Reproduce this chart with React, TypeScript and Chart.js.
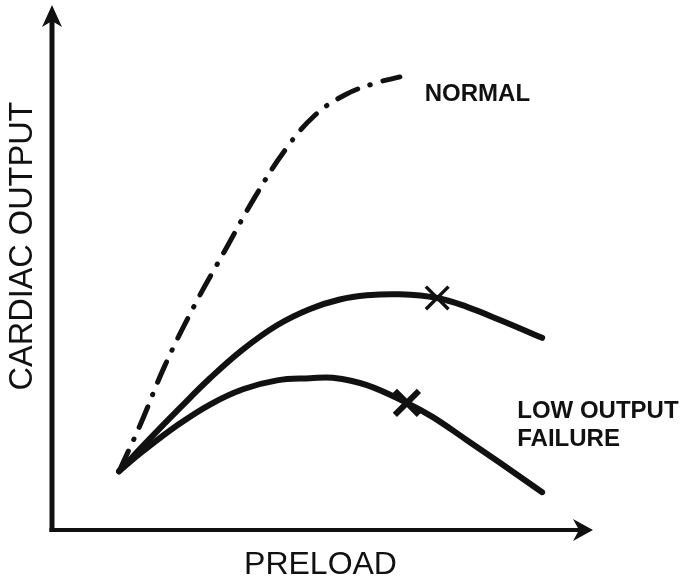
import React, { useEffect, useRef } from 'react';
import { Chart, registerables } from 'chart.js';

Chart.register(...registerables);

// Preload (x) and cardiac output (y) in arbitrary units, 0..100
const normalPreload = [12.4, 16.3, 20.9, 26.4, 32.0, 37.5, 43.1, 48.6, 54.2, 59.7, 64.3];
const normalOutput = [11.2, 20.0, 31.4, 42.9, 53.3, 63.4, 72.4, 79.0, 82.9, 85.1, 86.3];

const middlePreload = [12.4, 18.1, 23.7, 29.2, 35.3, 41.6, 47.7, 53.2, 58.2, 64.3, 71.2, 76.7, 82.8, 90.6];
const middleOutput = [11.2, 17.4, 23.3, 28.9, 34.4, 39.0, 42.1, 43.9, 44.7, 44.9, 44.2, 42.5, 40.0, 36.6];

const lowPreload = [12.4, 16.8, 23.1, 29.2, 35.3, 41.6, 47.7, 51.9, 58.2, 65.6, 70.4, 76.7, 82.8, 90.6];
const lowOutput = [11.2, 15.0, 19.9, 23.9, 26.8, 28.5, 28.9, 29.0, 27.6, 24.2, 21.5, 17.1, 12.8, 7.2];

const markerPreload = [71.2, 65.6];
const markerOutput = [44.2, 24.2];

const curveLabels = ['NORMAL', 'LOW OUTPUT', 'FAILURE'];
const labelPreload = [68.9, 86.0, 86.0];
const labelOutput = [81.7, 21.3, 16.0];

const xTitle = 'PRELOAD';
const yTitle = 'CARDIAC OUTPUT';

const toPoints = (xs: number[], ys: number[]) => xs.map((x, i) => ({ x, y: ys[i] }));

const INK = '#111111';

const decorPlugin = {
  id: 'decor',
  beforeDatasetsDraw(chart: any) {
    const { ctx, chartArea } = chart;
    const { left, right, top, bottom } = chartArea;
    ctx.save();
    ctx.strokeStyle = INK;
    ctx.fillStyle = INK;
    ctx.lineCap = 'butt';
    // y axis
    ctx.lineWidth = 5;
    ctx.beginPath();
    ctx.moveTo(left, bottom + 2);
    ctx.lineTo(left, top + 14);
    ctx.stroke();
    ctx.beginPath();
    ctx.moveTo(left, top);
    ctx.lineTo(left - 10, top + 22);
    ctx.lineTo(left, top + 16);
    ctx.lineTo(left + 10, top + 22);
    ctx.closePath();
    ctx.fill();
    // x axis
    ctx.lineWidth = 4;
    ctx.beginPath();
    ctx.moveTo(left - 2.5, bottom);
    ctx.lineTo(right - 12, bottom);
    ctx.stroke();
    ctx.beginPath();
    ctx.moveTo(right, bottom);
    ctx.lineTo(right - 20, bottom - 11);
    ctx.lineTo(right - 14, bottom);
    ctx.lineTo(right - 20, bottom + 11);
    ctx.closePath();
    ctx.fill();
    ctx.restore();
  },
  afterDatasetsDraw(chart: any) {
    const { ctx, chartArea, scales } = chart;
    ctx.save();
    ctx.fillStyle = INK;
    ctx.textBaseline = 'alphabetic';
    ctx.textAlign = 'left';
    ctx.font = 'bold 24px "Liberation Sans", Arial, sans-serif';
    curveLabels.forEach((t, i) => {
      ctx.fillText(t, scales.x.getPixelForValue(labelPreload[i]), scales.y.getPixelForValue(labelOutput[i]));
    });
    ctx.font = '32px "Liberation Sans", Arial, sans-serif';
    ctx.textAlign = 'center';
    ctx.fillText(xTitle, (chartArea.left + chartArea.right) / 2 - 2, chartArea.bottom + 44);
    ctx.font = '32.5px "Liberation Sans", Arial, sans-serif';
    ctx.translate(32, chartArea.top + 241);
    ctx.rotate(-Math.PI / 2);
    ctx.fillText(yTitle, 0, 0);
    ctx.restore();
  },
};

export default function App() {
  const ref = useRef<HTMLCanvasElement | null>(null);
  useEffect(() => {
    if (!ref.current) return;
    const lineCommon = {
      borderColor: INK,
      pointRadius: 0,
      fill: false,
      tension: 0.4,
      borderCapStyle: 'round' as const,
      borderJoinStyle: 'round' as const,
    };
    const chart = new Chart(ref.current, {
      type: 'line',
      data: {
        datasets: [
          {
            ...lineCommon,
            label: 'Normal',
            data: toPoints(normalPreload, normalOutput),
            borderWidth: 5,
            borderDash: [22, 13, 0.5, 13],
          },
          {
            ...lineCommon,
            label: 'Moderate',
            data: toPoints(middlePreload, middleOutput),
            borderWidth: 6,
          },
          {
            ...lineCommon,
            label: 'Low output failure',
            data: toPoints(lowPreload, lowOutput),
            borderWidth: 6,
          },
          {
            type: 'scatter' as any,
            label: 'Marker moderate',
            data: [{ x: markerPreload[0], y: markerOutput[0] }],
            pointStyle: 'crossRot',
            pointRadius: 16,
            borderColor: INK,
            pointBorderWidth: 3.5,
            showLine: false,
          } as any,
          {
            type: 'scatter' as any,
            label: 'Marker low',
            data: [{ x: markerPreload[1], y: markerOutput[1] }],
            pointStyle: 'crossRot',
            pointRadius: 17,
            borderColor: INK,
            pointBorderWidth: 6,
            showLine: false,
          } as any,
        ],
      },
      options: {
        animation: false,
        responsive: false,
        events: [],
        layout: { autoPadding: false, padding: { left: 52, right: 96, top: 5, bottom: 50 } },
        scales: {
          x: { type: 'linear', min: 0, max: 100, display: false },
          y: { type: 'linear', min: 0, max: 100, display: false },
        },
        plugins: {
          legend: { display: false },
          tooltip: { enabled: false },
        },
      },
      plugins: [decorPlugin],
    });
    return () => chart.destroy();
  }, []);
  return (
    <div style={{ position: 'fixed', left: 0, top: 0, width: 689, height: 580, background: '#fff' }}>
      <canvas ref={ref} width={689} height={580} style={{ display: 'block' }} />
    </div>
  );
}
